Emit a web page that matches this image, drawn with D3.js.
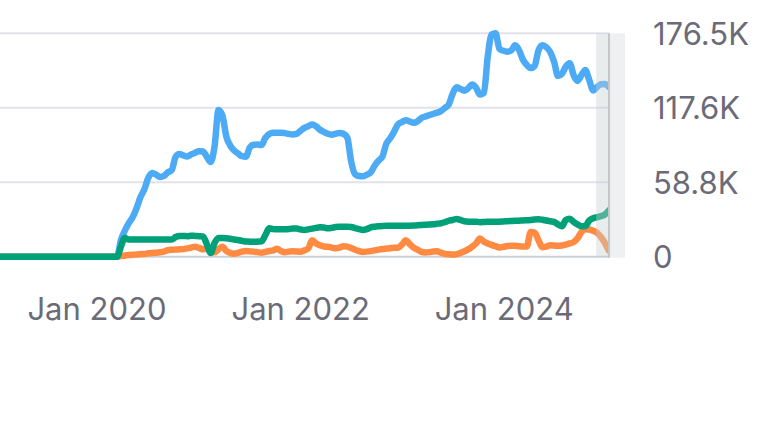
<!DOCTYPE html>
<html>
<head>
<meta charset="utf-8">
<script src="https://cdn.jsdelivr.net/npm/d3@7"></script>
<style>
  html, body { margin: 0; padding: 0; background: #ffffff; }
  svg { display: block; }
</style>
</head>
<body>
<svg id="chart" width="761" height="422"></svg>
<script>
// ---- data (values in thousands) ----
const startDate = "2019-01-20";   // first sample, biweekly samples
const stepDays = 14;
const blue = [
  0,0,0,0,0,0,0,0,0,0, 0,0,0,0,0,0,0,0,0,0, 0,0,0,0,0,0,0,0,0,0, 0,
  13.2,20.7,26.5,31.2,38.3,47.1,53.3,62.3,66.2,64.8,63.0,63.8,66.6,68.4,
  78.9,81.2,80.0,79.2,80.8,82.2,83.4,83.1,79.0,74.9,87.5,115.9,111.5,94.9,87.8,
  83.9,81.6,79.4,79.0,86.2,88.4,88.7,88.2,93.8,97.0,98.0,98.0,98.0,97.6,97.0,
  96.5,97.0,99.5,101.8,103.1,104.4,103.0,100.3,98.6,97.1,96.4,97.1,97.8,97.1,94.1,
  75.1,65.2,63.7,63.5,64.8,66.6,71.9,75.9,79.1,89.3,93.5,98.8,104.6,106.4,107.8,
  106.8,105.8,106.9,109.5,110.8,111.8,112.8,113.8,115.0,117.5,120.2,128.7,133.8,132.6,131.2,
  133.1,136.0,133.5,128.1,129.3,158.3,175.5,176.5,164.2,162.7,162.0,162.9,167.0,163.3,155.7,
  151.5,149.0,150.7,163.0,167.1,165.6,161.7,154.0,142.7,144.4,150.2,152.8,143.5,138.9,143.4,
  147.5,139.7,131.4,134.0,136.3,136.4,134.3
];
const orange = [
  0,0,0,0,0,0,0,0,0,0, 0,0,0,0,0,0,0,0,0,0, 0,0,0,0,0,0,0,0,0,0, 0,
  0.5,1.0,1.3,1.5,1.8,2.0,2.2,2.7,3.0,3.2,3.5,4.0,5.2,5.5,
  5.6,5.8,6.0,6.6,7.2,7.9,7.0,5.8,6.6,4.5,3.5,6.0,7.9,4.5,3.0,
  2.3,3.0,4.0,4.5,4.2,4.0,3.6,3.2,3.8,4.5,5.0,6.3,4.5,3.5,4.0,
  4.3,4.2,4.0,5.0,6.5,13.0,10.5,9.0,8.0,7.9,7.2,6.6,7.2,8.3,8.0,
  6.8,5.5,4.5,3.8,4.0,4.4,5.0,5.6,6.1,6.4,6.7,7.0,7.1,9.5,13.0,
  10.0,7.1,5.5,3.8,3.3,3.6,4.2,4.3,3.2,2.2,1.9,1.8,2.0,3.0,4.3,
  5.8,8.0,10.5,14.3,12.0,10.5,9.3,8.3,7.3,7.8,8.4,8.7,8.6,8.2,8.0,
  8.0,19.5,19.0,13.0,7.5,8.0,9.0,8.8,8.6,8.9,9.6,10.5,11.5,14.5,19.5,
  21.6,21.5,20.5,19.0,15.5,11.0,5.0
];
const green = [
  0,0,0,0,0,0,0,0,0,0, 0,0,0,0,0,0,0,0,0,0, 0,0,0,0,0,0,0,0,0,0, 0,
  8.0,14.8,13.6,13.6,13.6,13.6,13.6,13.6,13.6,13.6,13.6,13.6,13.6,13.6,
  15.5,16.4,16.4,16.2,16.6,16.4,16.2,16.0,10.0,2.9,11.0,14.8,14.8,14.6,14.2,
  13.6,13.2,12.6,12.0,11.9,11.8,11.9,12.2,17.0,22.4,21.8,21.6,21.6,21.6,21.8,
  22.2,22.2,21.6,21.1,21.6,22.2,22.8,23.2,23.0,22.4,22.8,23.4,23.7,23.7,23.7,
  23.5,22.6,21.8,21.1,21.8,23.2,23.7,24.0,24.2,24.5,24.5,24.5,24.5,24.5,24.5,
  24.5,24.6,24.8,25.0,25.2,25.4,25.6,26.0,26.4,27.2,28.4,29.0,29.8,29.0,28.0,
  27.7,27.7,27.7,27.2,27.5,27.6,27.6,27.7,27.7,27.9,28.0,28.2,28.4,28.5,28.6,
  28.8,29.0,29.4,29.6,29.2,28.6,28.0,27.5,25.5,24.0,29.0,30.0,27.5,25.5,24.0,
  24.2,28.5,30.3,31.2,32.0,33.3,36.5
];
const xDomain = ["2019-01-20", "2025-01-13"];
const xTickDates = ["2020-01-01", "2022-01-01", "2024-01-01"];
const xTickLabels = ["Jan 2020", "Jan 2022", "Jan 2024"];
const yTickValues = [0, 58.83, 117.67, 176.5];
const yTickLabels = ["0", "58.8K", "117.6K", "176.5K"];
const partialStart = "2024-11-28";

// ---- layout ----
const svg = d3.select("#chart");
const M = { left: 0, top: 33.3 };
const W = 609, H = 223.4;
const parse = d3.utcParse("%Y-%m-%d");
const t0 = parse(startDate);
const dates = blue.map((_, i) => d3.utcDay.offset(t0, i * stepDays));

const x = d3.scaleUtc().domain(xDomain.map(parse)).range([0, W]);
const y = d3.scaleLinear().domain([0, 176.5]).range([H, 0]);

const g = svg.append("g").attr("transform", `translate(${M.left},${M.top})`);

// gray panel right of plot
g.append("rect")
  .attr("x", W).attr("y", 0).attr("width", 16).attr("height", H + 1)
  .attr("fill", "#eef0f1");

// gridlines
g.append("g").selectAll("line")
  .data(yTickValues)
  .join("line")
  .attr("x1", 0).attr("x2", W)
  .attr("y1", d => y(d)).attr("y2", d => y(d))
  .attr("stroke", (d, i) => i === 0 ? "#cdd0d5" : "#e2e2ea")
  .attr("stroke-width", 2);

// clip
svg.append("defs").append("clipPath").attr("id", "clip")
  .append("rect").attr("x", -5).attr("y", -20).attr("width", W + 5).attr("height", H + 40);

const line = d3.line()
  .x((d, i) => x(dates[i]))
  .y(d => y(d))
  .curve(d3.curveMonotoneX);

const series = [
  { vals: blue, color: "#4dabf5" },
  { vals: orange, color: "#ff8b42" },
  { vals: green, color: "#00a078" }
];
const lg = g.append("g").attr("clip-path", "url(#clip)");
lg.selectAll("path")
  .data(series)
  .join("path")
  .attr("d", d => line(d.vals))
  .attr("fill", "none")
  .attr("stroke", d => d.color)
  .attr("stroke-width", 6.5)
  .attr("stroke-linejoin", "round")
  .attr("stroke-linecap", "round");

// partial-period band
const bx = x(parse(partialStart));
g.append("rect")
  .attr("x", bx).attr("y", 0).attr("width", W - bx).attr("height", H)
  .attr("fill", "#c5d0d3").attr("fill-opacity", 0.4);
g.append("line")
  .attr("x1", W).attr("x2", W).attr("y1", 0).attr("y2", H + 1)
  .attr("stroke", "#c2c7cc").attr("stroke-width", 2);

// y axis (right)
const yAxis = d3.axisRight(y)
  .tickValues(yTickValues)
  .tickFormat((d, i) => yTickLabels[i])
  .tickSize(0).tickPadding(0);
const ya = g.append("g").attr("transform", `translate(653,0)`).call(yAxis);
ya.select(".domain").remove();
ya.selectAll("text")
  .attr("fill", "#6b6b78")
  .style("font-family", "Inter, 'Noto Sans', sans-serif")
  .style("font-size", "31px")
  .attr("x", 0).attr("dy", "0.35em");

// x axis
const xAxis = d3.axisBottom(x)
  .tickValues(xTickDates.map(parse))
  .tickFormat((d, i) => xTickLabels[i])
  .tickSize(0).tickPadding(0);
const xa = g.append("g").attr("transform", `translate(0,${H})`).call(xAxis);
xa.select(".domain").remove();
xa.selectAll("text")
  .attr("fill", "#6b6b78")
  .style("font-family", "Inter, 'Noto Sans', sans-serif")
  .style("font-size", "31px")
  .attr("y", 63).attr("dy", 0);
</script>
</body>
</html>
